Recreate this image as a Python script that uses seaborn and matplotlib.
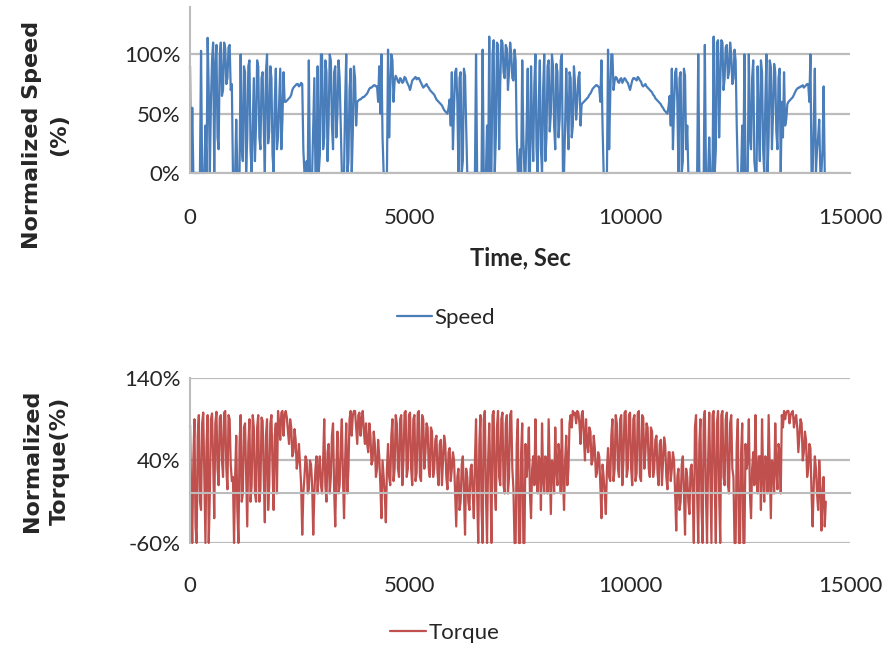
import numpy as np
import pandas as pd
import seaborn as sns
import matplotlib
matplotlib.use("Agg")
import matplotlib.pyplot as plt
from matplotlib.ticker import PercentFormatter

# values: samples every 50 s plus the
# in-between samples (25 s, 75 s, ...) kept in separate lists
sample_step = 25

speed_main = [
    90, 55, 0, 0, 0, 103, 0, 40, 114, 0,
    95, 0, 108, 20, 110, 70, 105, 80, 108, 75,
    0, 45, 0, 100, 10, 85, 30, 95, 0, 80,
    40, 90, 20, 85, 0, 100, 35, 80, 0, 88,
    30, 88, 45, 60, 61, 63, 66, 72, 74, 75,
    74, 75, 0, 10, 95, 0, 40, 0, 90, 15,
    100, 30, 85, 45, 95, 20, 90, 50, 80, 0,
    0, 100, 10, 88, 35, 80, 60, 62, 63, 64,
    66, 69, 72, 73, 74, 73, 90, 100, 0, 0,
    104, 70, 95, 78, 80, 76, 79, 77, 80, 75,
    70, 78, 80, 79, 80, 76, 72, 74, 73, 70,
    68, 66, 62, 60, 58, 55, 52, 50, 62, 85,
    55, 88, 0, 85, 10, 82, 0, 0, 0, 0,
    100, 0, 0, 104, 0, 40, 115, 0, 112, 30,
    108, 75, 110, 80, 105, 85, 100, 78, 95, 0,
    20, 95, 0, 40, 0, 90, 10, 100, 0, 95,
    0, 100, 30, 95, 50, 90, 20, 85, 45, 100,
    0, 88, 20, 80, 40, 75, 60, 85, 58, 60,
    62, 64, 67, 71, 73, 74, 72, 95, 0, 0,
    104, 65, 100, 78, 80, 76, 80, 78, 79, 76,
    70, 78, 80, 78, 80, 77, 73, 75, 72, 70,
    68, 65, 62, 60, 58, 55, 52, 50, 65, 88,
    55, 88, 0, 85, 10, 82, 40, 0, 0, 0,
    0, 100, 0, 0, 108, 0, 30, 0, 115, 20,
    112, 75, 110, 80, 108, 85, 100, 80, 95, 0,
    0, 40, 100, 0, 100, 20, 95, 0, 90, 10,
    85, 0, 100, 30, 90, 50, 85, 20, 88, 60,
    85, 45, 60, 62, 64, 68, 71, 72, 73, 72,
    74, 75, 100, 0, 88, 20, 45, 0, 73, 0,
]

speed_mid = [
    0, 0, 0, 0, 0, 0, 0, 0, 70, 60,
    110, 90, 30, 100, 65, 110, 75, 106, 70, 0,
    0, 0, 0, 20, 90, 0, 90, 20, 40, 10,
    95, 30, 80, 40, 85, 25, 90, 15, 60, 20,
    60, 20, 85, 60, 62, 64, 70, 73, 75, 73,
    76, 20, 0, 0, 0, 0, 80, 0, 0, 100,
    20, 95, 10, 100, 40, 85, 30, 95, 40, 0,
    60, 0, 70, 0, 90, 40, 61, 62, 64, 65,
    67, 71, 72, 74, 73, 60, 50, 30, 0, 0,
    30, 100, 60, 82, 77, 80, 76, 81, 77, 73,
    74, 79, 81, 80, 78, 74, 73, 75, 72, 69,
    67, 64, 61, 59, 57, 53, 51, 55, 40, 20,
    85, 60, 80, 0, 88, 40, 0, 0, 0, 0,
    0, 0, 0, 0, 0, 0, 0, 100, 0, 110,
    20, 112, 85, 108, 70, 110, 80, 104, 30, 0,
    0, 30, 0, 88, 0, 40, 75, 20, 60, 20,
    70, 10, 90, 35, 100, 40, 92, 30, 95, 0,
    40, 50, 85, 30, 90, 45, 80, 40, 59, 61,
    63, 66, 69, 72, 74, 73, 60, 40, 0, 0,
    20, 100, 70, 81, 77, 79, 76, 80, 77, 73,
    74, 80, 79, 81, 78, 74, 74, 73, 71, 69,
    66, 63, 61, 59, 56, 53, 51, 56, 40, 20,
    85, 60, 80, 0, 88, 20, 0, 0, 0, 0,
    0, 0, 0, 0, 0, 0, 0, 0, 0, 110,
    30, 112, 70, 106, 80, 110, 75, 104, 40, 0,
    0, 0, 0, 0, 30, 80, 10, 0, 40, 95,
    20, 60, 0, 95, 20, 92, 35, 80, 0, 30,
    40, 58, 61, 63, 66, 70, 72, 73, 74, 73,
    75, 60, 0, 40, 0, 30, 0, 20, 0,
]

torque_main = [
    83, -60, 90, -60, 95, -20, 98, -60, 95, 0,
    97, -30, 99, 10, 95, 20, 100, 5, 90, 15,
    -60, 70, -60, 95, 0, 85, -40, 90, 10, 80,
    -10, 95, 5, 88, -35, 90, 10, 95, -20, 85,
    100, 65, 100, 95, 92, 60, 80, 50, 65, 40,
    35, -50, 20, 40, 5, 35, -50, 30, 0, 45,
    0, 90, -10, 60, 20, 85, -40, 75, 10, 90,
    -30, 85, 30, 100, 95, 100, 60, 98, 90, 75,
    85, 50, 70, 40, 60, 30, 45, -30, 20, -35,
    60, 10, 90, 30, 85, 20, 95, 40, 100, 30,
    98, 10, 95, 25, 100, 15, 90, 50, 80, 20,
    75, 30, 70, 10, 65, 40, 60, 5, 55, 30,
    40, -40, 30, -10, 45, -50, 20, -20, 35, -30,
    90, -60, 95, -60, 100, -60, 85, -60, 100, -20,
    100, 10, 98, 0, 95, 20, 100, 5, -60, 90,
    -60, 85, -60, 20, 80, -30, 45, 90, 0, 40,
    85, 0, 40, 90, -25, 35, 80, 10, 45, 90,
    -20, 70, 30, 95, 100, 98, 100, 85, 95, 70,
    90, 50, 75, 40, 55, 25, 45, -30, 20, -25,
    55, 15, 90, 30, 85, 20, 95, 40, 100, 30,
    98, 10, 95, 25, 100, 15, 92, 50, 80, 20,
    75, 30, 70, 10, 65, 40, 58, 5, 50, 30,
    40, -45, 30, -10, 45, -50, 20, -25, 35, -60,
    95, -60, 90, -60, 100, -60, 98, -60, 100, -60,
    100, -60, 100, 10, 98, 0, 95, 20, -60, 90,
    -60, 85, -60, 30, 90, -30, 50, 95, 0, 45,
    90, -10, 40, 95, -30, 35, 85, 5, 50, 95,
    100, 98, 100, 95, 100, 90, 80, 70, 85, 50,
    65, 30, 55, -40, 45, 0, 40, -45, 20, -10,
]

torque_mid = [
    0, 40, -40, 70, -10, 85, 20, 60, -60, 90,
    40, 85, 30, 92, 40, 98, 30, 95, 35, 20,
    20, -20, 60, -10, 80, 20, 60, -10, 95, 0,
    80, -10, 92, 20, 70, -20, 85, 30, 70, 0,
    85, 98, 70, 100, 75, 90, 45, 78, 30, 60,
    10, 0, 45, 0, 40, 10, 0, 45, 30, 10,
    40, 10, 50, 0, 70, 5, 30, 0, 60, 20,
    40, 0, 90, 70, 100, 80, 95, 70, 100, 60,
    60, 85, 35, 75, 20, 65, 10, 40, 0, 30,
    20, 70, 15, 95, 30, 90, 10, 98, 20, 95,
    30, 90, 15, 97, 20, 95, 30, 85, 30, 80,
    20, 65, 25, 60, 10, 70, 20, 50, 15, 50,
    0, 20, -20, 35, 0, 30, -10, 30, 0, 40,
    0, 60, -20, 90, 0, 40, 20, 95, 10, 80,
    20, 90, 10, 85, 0, 95, 30, -60, 60, -60,
    50, -60, 60, 40, 0, 30, 10, 20, 45, -20,
    20, 45, 0, 30, 40, 0, 30, 60, 0, 20,
    40, 10, 85, 80, 95, 85, 98, 60, 100, 40,
    60, 80, 35, 70, 20, 50, 10, 35, 0, 30,
    20, 70, 15, 95, 30, 90, 10, 98, 20, 95,
    30, 90, 15, 97, 20, 95, 30, 85, 30, 80,
    20, 65, 25, 60, 10, 68, 20, 50, 15, 50,
    0, 20, -20, 35, 0, 30, -10, 30, 0, 80,
    0, 60, -20, 90, 0, 40, 20, 95, 10, 85,
    0, 95, 20, 90, 10, 85, 30, -60, 60, -60,
    50, -60, 60, 40, 0, 30, 10, 20, 45, -20,
    20, 45, 0, 30, 40, 0, 30, 60, 0, 80,
    90, 100, 85, 98, 80, 95, 50, 90, 40, 75,
    20, 60, 0, 10, 30, -20, 10, 0, -40,
]

x_ticks = [0, 5000, 10000, 15000]
speed_ticks = [0, 50, 100]
torque_ticks = [-60, 40, 140]


def interleave(main, mid):
    out = []
    for i, v in enumerate(main):
        out.append(v)
        if i < len(mid):
            out.append(mid[i])
    return out


speed = interleave(speed_main, speed_mid)
torque = interleave(torque_main, torque_mid)

df = pd.DataFrame({
    "Time": np.arange(len(speed)) * sample_step,
    "Speed": speed,
    "Torque": torque,
})

sns.set_style("white")
plt.rcParams["font.family"] = ["Lato", "DejaVu Sans"]
plt.rcParams["axes.unicode_minus"] = False

grid_col = "#bcbcbc"
fig = plt.figure(figsize=(8.96, 6.53), dpi=100)
ax1 = fig.add_axes([0.2121, 0.7351, 0.7366, 0.2542])
ax2 = fig.add_axes([0.2121, 0.1685, 0.7366, 0.2527])

# ---- speed
sns.lineplot(data=df, x="Time", y="Speed", ax=ax1, color="#4a7ebb",
             linewidth=1.6, label="Speed")
ax1.set_xlim(0, 15000)
ax1.set_ylim(0, 140)
ax1.set_xticks(x_ticks)
ax1.set_yticks(speed_ticks)
ax1.yaxis.set_major_formatter(PercentFormatter(100, decimals=0))
ax1.set_ylabel("Normalized Speed\n(%)", fontsize=16, fontweight="bold",
               family="DejaVu Sans", linespacing=1.45)
ax1.yaxis.set_label_coords(-0.183, 0.23)
ax1.set_xlabel("Time, Sec", fontsize=17, fontweight="bold")
ax1.xaxis.label.set_va("center")
ax1.xaxis.set_label_coords(0.5, -0.512)
ax1.tick_params(axis="x", length=7.5, width=1.2, color=grid_col, pad=18,
                labelsize=16, labelcolor="#262626")
ax1.tick_params(axis="y", length=5, width=1.5, color=grid_col, pad=2,
                labelsize=16, labelcolor="#262626")
ax1.legend(loc="center", bbox_to_anchor=(0.388, -0.873), frameon=False,
           fontsize=16, handlelength=1.6, handletextpad=0.1)

# ---- torque
sns.lineplot(data=df, x="Time", y="Torque", ax=ax2, color="#c0504d",
             linewidth=1.6, label="Torque")
ax2.set_xlim(0, 15000)
ax2.set_ylim(-60, 140)
ax2.set_xticks(x_ticks)
ax2.set_yticks(torque_ticks)
ax2.yaxis.set_major_formatter(PercentFormatter(100, decimals=0))
ax2.set_ylabel("Normalized\nTorque(%)", fontsize=16, fontweight="bold",
               family="DejaVu Sans", linespacing=1.5)
ax2.yaxis.set_label_coords(-0.182, 0.5)
ax2.set_xlabel("")
ax2.spines["bottom"].set_position(("data", 0))
ax2.tick_params(axis="x", length=7.5, width=1.2, color=grid_col, pad=52,
                labelsize=16, labelcolor="#262626")
ax2.tick_params(axis="y", length=5, width=1.5, color=grid_col, pad=2,
                labelsize=16, labelcolor="#262626")
ax2.legend(loc="center", bbox_to_anchor=(0.386, -0.545), frameon=False,
           fontsize=16, handlelength=1.6, handletextpad=0.1)

for ax in (ax1, ax2):
    ax.yaxis.grid(True, color=grid_col, linewidth=1.6)
    ax.xaxis.grid(False)
    ax.set_axisbelow(True)
    for side in ("top", "right"):
        ax.spines[side].set_visible(False)
    for side in ("left", "bottom"):
        ax.spines[side].set_color(grid_col)
        ax.spines[side].set_linewidth(1.5)
    ax.lines[0].set_clip_on(False)

fig.savefig("out.png", dpi=100)
